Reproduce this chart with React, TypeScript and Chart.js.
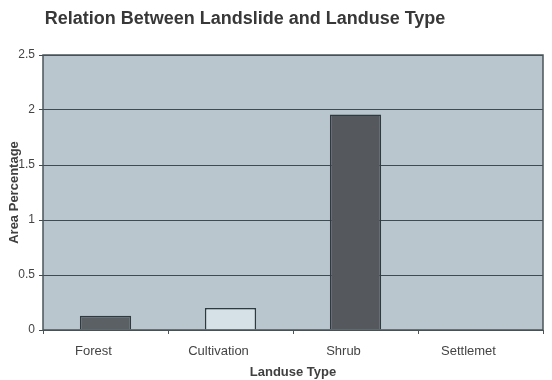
import React, { useEffect, useRef } from "react";
import { Chart, registerables } from "chart.js";

Chart.register(...registerables);

const categories: string[] = ["Forest", "Cultivation", "Shrub", "Settlemet"];
const areaPercentage: number[] = [0.13, 0.2, 1.96, 0];
const barColors: string[] = ["#5a6064", "#d6e1e7", "#55595d", "#55595d"];
const yTickValues: number[] = [0, 0.5, 1, 1.5, 2, 2.5];
const yTickLabels: string[] = ["0", "0.5", "1", "1.5", "2", "2.5"];
const chartTitle = "Relation Between Landslide and Landuse Type";
const xTitle = "Landuse Type";
const yTitle = "Area Percentage";

const FONT = "Arial, 'Liberation Sans', sans-serif";

const plotBg = {
  id: "plotBg",
  beforeDraw(chart: any) {
    const { ctx, chartArea } = chart;
    ctx.save();
    ctx.fillStyle = "#b9c6cd";
    ctx.fillRect(chartArea.left, chartArea.top, chartArea.right - chartArea.left, chartArea.bottom - chartArea.top);
    ctx.restore();
  },
  afterDatasetsDraw(chart: any) {
    const { ctx, chartArea } = chart;
    ctx.save();
    ctx.strokeStyle = "#4a5559";
    ctx.lineWidth = 1.5;
    ctx.strokeRect(chartArea.left, chartArea.top, chartArea.right - chartArea.left, chartArea.bottom - chartArea.top);
    ctx.restore();
  },
  afterDraw(chart: any) {
    const { ctx } = chart;
    ctx.save();
    ctx.fillStyle = "#383838";
    ctx.font = "bold 18px " + FONT;
    ctx.textAlign = "center";
    ctx.textBaseline = "middle";
    ctx.fillText(chartTitle, 245, 19);
    ctx.restore();
  },
};

export default function App() {
  const ref = useRef<HTMLCanvasElement | null>(null);
  useEffect(() => {
    if (!ref.current) return;
    const chart = new Chart(ref.current, {
      type: "bar",
      data: {
        labels: categories,
        datasets: [
          {
            data: areaPercentage,
            backgroundColor: barColors,
            borderColor: "#2e3a3f",
            borderWidth: 1.5,
            categoryPercentage: 1,
            barPercentage: 0.41,
          },
        ],
      },
      options: {
        animation: false,
        responsive: false,
        maintainAspectRatio: false,
        layout: { padding: { top: 55, right: 9, bottom: 0, left: 0 } },
        plugins: { legend: { display: false }, title: { display: false }, tooltip: { enabled: false } },
        scales: {
          x: {
            grid: { offset: true, drawOnChartArea: false, drawTicks: true, tickLength: 4, color: "#4a5559" },
            border: { display: false },
            ticks: {
              color: "#444",
              font: { size: 13, family: FONT },
              padding: 10,
              labelOffset: -12,
              maxRotation: 0,
            },
            title: {
              display: true,
              text: xTitle,
              color: "#404040",
              font: { size: 13, weight: "bold", family: FONT },
              padding: { top: 0, bottom: 0 },
            },
            afterFit: (s: any) => {
              s.height = 50;
            },
          },
          y: {
            min: 0,
            max: 2.5,
            afterBuildTicks: (s: any) => {
              s.ticks = yTickValues.map((v) => ({ value: v }));
            },
            grid: { color: "#3f4b50", lineWidth: 1, tickLength: 4, drawTicks: true },
            border: { display: false },
            ticks: {
              color: "#444",
              font: { size: 12, family: FONT },
              padding: 4,
              callback: (v: any) => {
                const i = yTickValues.indexOf(Number(v));
                return i >= 0 ? yTickLabels[i] : "";
              },
            },
            title: {
              display: true,
              text: yTitle,
              color: "#404040",
              font: { size: 13, weight: "bold", family: FONT },
              padding: { top: 7, bottom: 0 },
            },
            afterFit: (s: any) => {
              s.width = 43;
            },
          },
        },
      },
      plugins: [plotBg],
    });
    return () => chart.destroy();
  }, []);
  return (
    <div style={{ position: "fixed", left: 0, top: 0, width: 552, height: 380, background: "#fff" }}>
      <canvas ref={ref} width={552} height={380} style={{ width: 552, height: 380 }} />
    </div>
  );
}
